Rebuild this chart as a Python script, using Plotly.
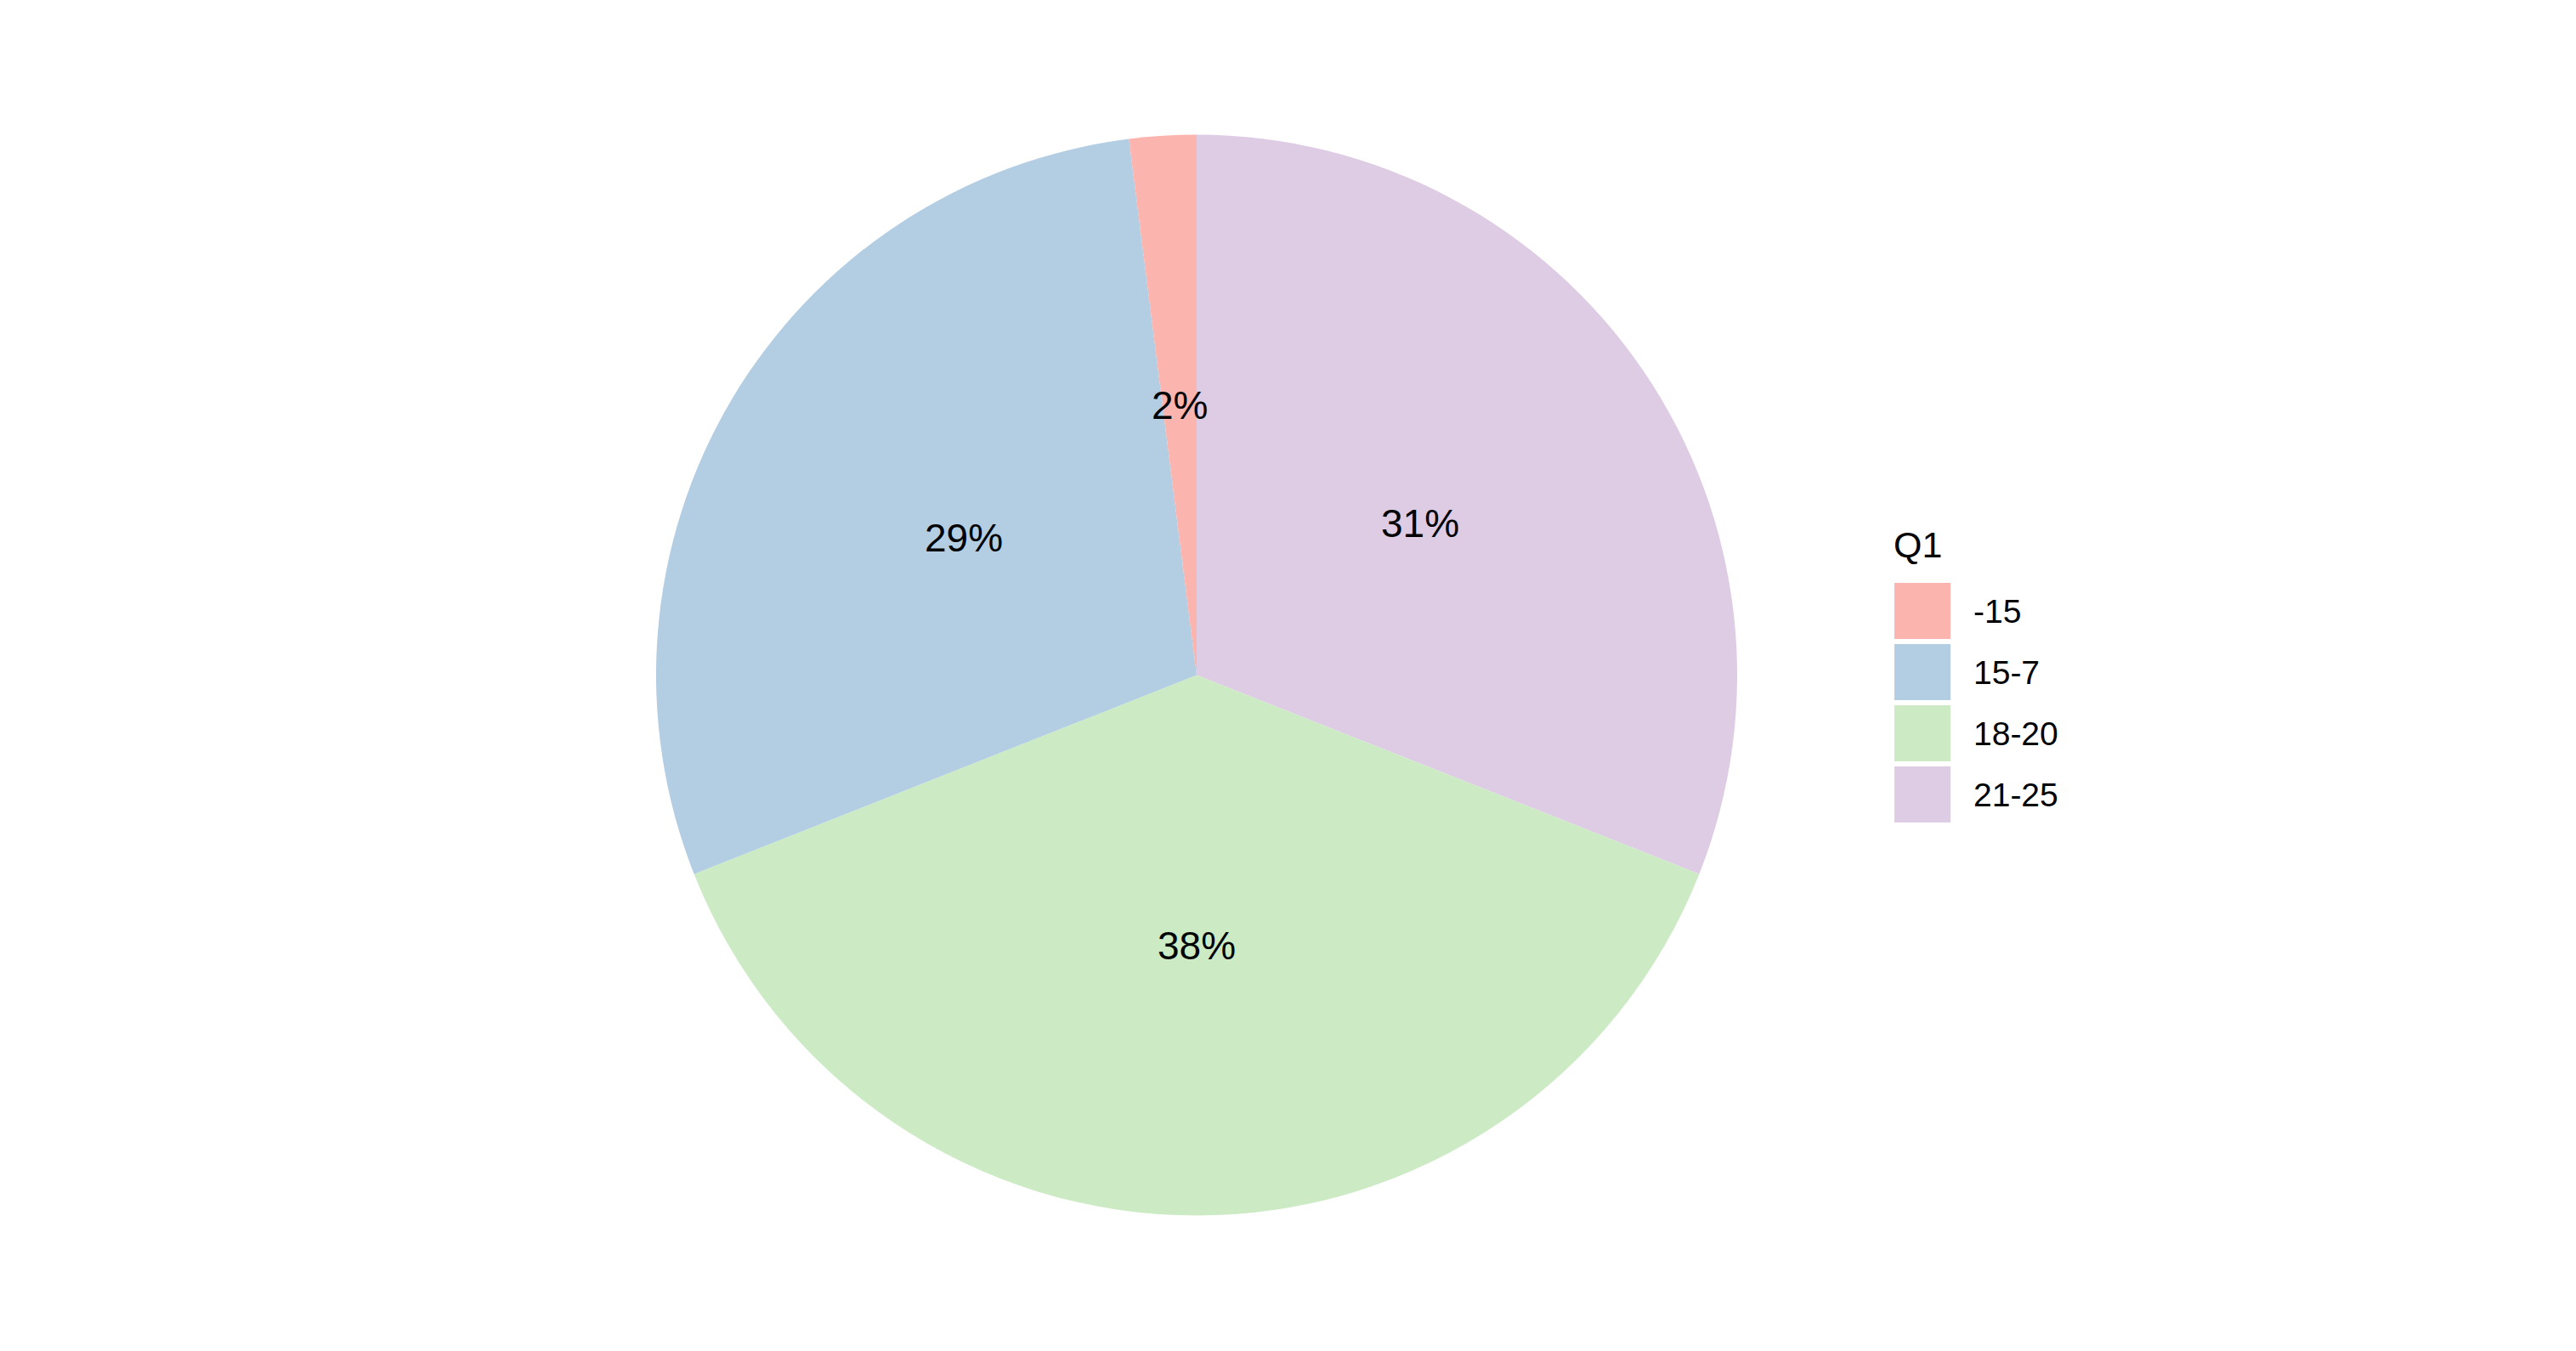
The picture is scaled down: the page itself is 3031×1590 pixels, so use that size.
import plotly.graph_objects as go
import math

categories = ["-15", "15-7", "18-20", "21-25"]
shares = [2, 29, 38, 31]  # percent
colors = ["#FBB4AE", "#B3CDE3", "#CCEBC5", "#DECBE4"]
legend_title = "Q1"

W, H = 3031, 1590
cx, cy, R = 1408, 794.5, 636  # pie centre / radius in pixels

# Slices run counterclockwise from 12 o'clock in category order; drawn here
# clockwise with the order reversed, which gives the same arrangement.
fig = go.Figure()
fig.add_trace(go.Pie(
    labels=categories[::-1], values=shares[::-1], sort=False, direction="clockwise",
    rotation=0, marker=dict(colors=colors[::-1], line=dict(width=0)),
    textinfo="none", hoverinfo="label+percent", showlegend=False,
    domain=dict(x=[(cx - R) / W, (cx + R) / W], y=[(H - cy - R) / H, (H - cy + R) / H]),
))

total = sum(shares)
annotations = []
cum = 0
for v in shares:
    mid = (cum + v / 2) / total
    th = 2 * math.pi * mid
    px = cx - (R / 2) * math.sin(th)
    py = cy - (R / 2) * math.cos(th)
    annotations.append(dict(
        x=px / W, y=1 - py / H, xref="paper", yref="paper", showarrow=False,
        text=f"{round(100 * v / total)}%", xanchor="center", yanchor="middle",
        font=dict(family="Liberation Sans, Arial", size=46, color="black"),
    ))
    cum += v

# legend (ggplot-style keys)
shapes = []
key_x0, key_size, key_step, key_top = 2229, 66, 72, 686
annotations.append(dict(
    x=2226 / W, y=1 - 641 / H, xref="paper", yref="paper", showarrow=False,
    text=legend_title, xanchor="left", yanchor="middle",
    font=dict(family="Liberation Sans, Arial", size=43, color="black"),
))
for i, (cat, col) in enumerate(zip(categories, colors)):
    y0 = key_top + i * key_step
    shapes.append(dict(type="rect", xref="paper", yref="paper",
                       x0=key_x0 / W, x1=(key_x0 + key_size) / W,
                       y0=1 - y0 / H, y1=1 - (y0 + key_size) / H,
                       fillcolor=col, line=dict(width=0)))
    annotations.append(dict(
        x=2320 / W, y=1 - (y0 + key_size / 2) / H, xref="paper", yref="paper",
        showarrow=False, text=cat, xanchor="left", yanchor="middle",
        font=dict(family="Liberation Sans, Arial", size=39, color="black"),
    ))

fig.update_layout(
    width=W, height=H, margin=dict(l=0, r=0, t=0, b=0),
    paper_bgcolor="white", plot_bgcolor="white",
    annotations=annotations, shapes=shapes,
)
fig.write_html("out.html")
